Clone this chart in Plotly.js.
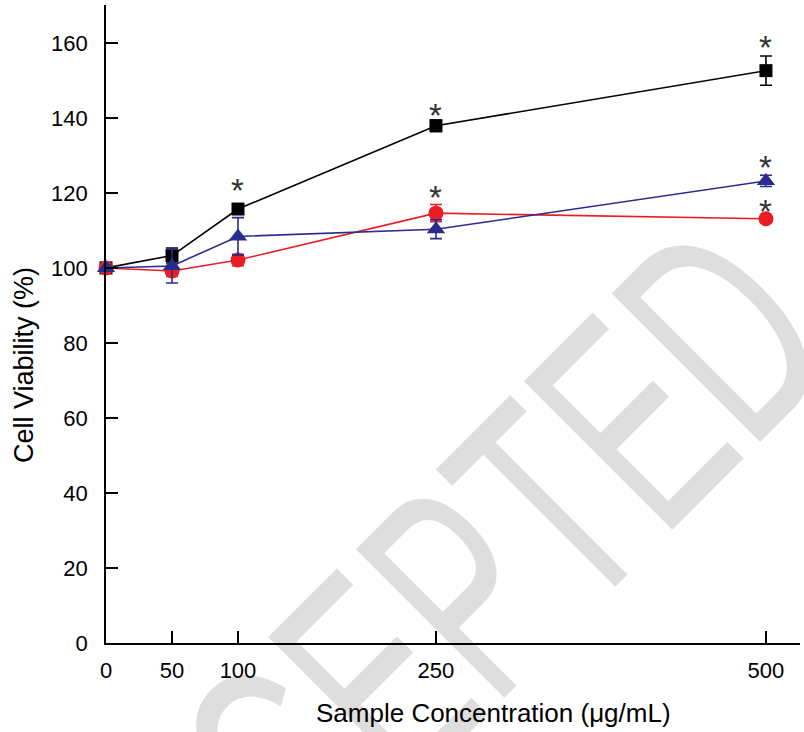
<!DOCTYPE html>
<html>
<head>
<meta charset="utf-8">
<script src="https://cdn.plot.ly/plotly-3.0.1.min.js"></script>
<style>
  html, body { margin: 0; padding: 0; background: #ffffff; }
  #wrap { position: relative; width: 804px; height: 732px; overflow: hidden; }
  #wm { position: absolute; left: 0; top: 0; z-index: 0; }
  #chart { position: absolute; left: 0; top: 0; width: 804px; height: 732px; z-index: 1; }
</style>
</head>
<body>
<div id="wrap">
  <svg id="wm" width="804" height="732" xmlns="http://www.w3.org/2000/svg">
    <text transform="translate(128,1074) rotate(-45) scale(0.61,1)" font-family="Liberation Sans, Arial, sans-serif" font-size="305" fill="#dedede">ACCEPTED</text>
  </svg>
  <div id="chart"></div>
</div>
<script>
// Sample concentrations (µg/mL)
const concentrations = [0, 50, 100, 250, 500];
const xTickLabels = ['0', '50', '100', '250', '500'];
const yTickValues = [0, 20, 40, 60, 80, 100, 120, 140, 160];
const yTickLabels = ['0', '20', '40', '60', '80', '100', '120', '140', '160'];

// Cell viability (%) — black squares
const viabilitySquare = [100, 103.3, 115.7, 137.9, 152.6];
const errSquare = [0.8, 2.0, 1.0, 1.5, 3.9];
// Cell viability (%) — red circles
const viabilityCircle = [100, 99.2, 102.1, 114.6, 113.1];
const errCircle = [0.8, 1.5, 1.5, 2.3, 1.0];
// Cell viability (%) — blue triangles
const viabilityTriangle = [100, 100.5, 108.4, 110.3, 123.2];
const errTriangle = [0.8, 4.5, 5.0, 2.5, 1.5];

// Significance markers
const starX = [100, 250, 250, 500, 500, 500];
const starY = [122.7, 142.9, 121.0, 161.0, 128.8, 117.3];

const BLACK = '#000000';
const RED = '#ec1c24';
const BLUE = '#2b2b8f';

function series(x, y, err, color, symbol, size) {
  return {
    x: x, y: y, type: 'scatter', mode: 'lines+markers', cliponaxis: false,
    line: { color: color, width: 1.6 },
    marker: { color: color, symbol: symbol, size: size, line: { width: 0 } },
    error_y: { type: 'data', array: err, visible: true, color: color, thickness: 1.6, width: 6 },
    showlegend: false, hoverinfo: 'x+y'
  };
}

const traces = [
  series(concentrations, viabilitySquare, errSquare, BLACK, 'square', 13),
  series(concentrations, viabilityCircle, errCircle, RED, 'circle', 15),
  series(concentrations, viabilityTriangle, errTriangle, BLUE, 'triangle-up', 16)
];

const font = 'Liberation Sans, Arial, Helvetica, sans-serif';

const annotations = starX.map((x, i) => ({
  x: x, y: starY[i], xref: 'x', yref: 'y', text: '*', showarrow: false,
  font: { family: font, size: 33, color: '#333333' }, yshift: -8
}));

annotations.push({
  text: 'Sample Concentration (μg/mL)', xref: 'paper', yref: 'paper',
  x: 0.558, y: -0.11, xanchor: 'center', yanchor: 'middle', showarrow: false,
  font: { family: font, size: 26, color: '#000000' }
});
annotations.push({
  text: 'Cell Viability (%)', xref: 'paper', yref: 'paper',
  x: -0.118, y: 0.436, xanchor: 'center', yanchor: 'middle', showarrow: false,
  textangle: -90,
  font: { family: font, size: 27, color: '#000000' }
});

const layout = {
  width: 804, height: 732,
  margin: { l: 106, r: 4, t: 5, b: 89, pad: 0 },
  paper_bgcolor: 'rgba(0,0,0,0)', plot_bgcolor: 'rgba(0,0,0,0)',
  font: { family: font, size: 22, color: '#000000' },
  xaxis: {
    range: [0, 525.8], tickmode: 'array', tickvals: concentrations, ticktext: xTickLabels,
    ticks: 'inside', ticklen: 12, tickwidth: 1.6, tickcolor: '#000',
    showline: true, linecolor: '#000', linewidth: 1.8,
    showgrid: false, zeroline: false, ticklabelstandoff: 7,
    tickfont: { family: font, size: 22, color: '#000' }
  },
  yaxis: {
    range: [0, 170.1], tickmode: 'array', tickvals: yTickValues, ticktext: yTickLabels,
    ticks: 'inside', ticklen: 12, tickwidth: 1.6, tickcolor: '#000',
    showline: true, linecolor: '#000', linewidth: 1.8,
    showgrid: false, zeroline: false, ticklabelstandoff: 12,
    tickfont: { family: font, size: 22, color: '#000' }
  },
  annotations: annotations
};

Plotly.newPlot('chart', traces, layout, { displayModeBar: false, staticPlot: true });
</script>
</body>
</html>
